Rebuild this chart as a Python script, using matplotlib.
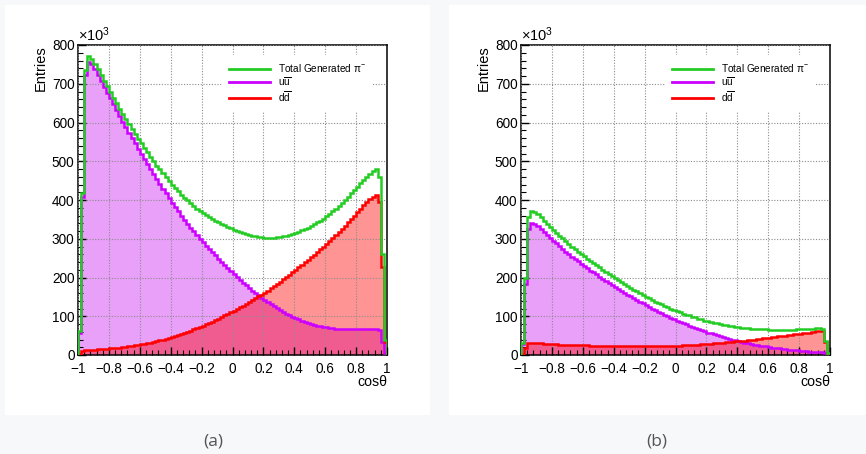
import numpy as np
import matplotlib
matplotlib.use("Agg")
import matplotlib.pyplot as plt
from matplotlib.patches import Rectangle
from matplotlib.lines import Line2D
from matplotlib.ticker import MultipleLocator, FixedLocator, FixedFormatter

plt.rcParams['font.family'] = ['Liberation Sans', 'DejaVu Sans']
plt.rcParams['mathtext.fontset'] = 'custom'
plt.rcParams['mathtext.rm'] = 'Liberation Sans'
plt.rcParams['mathtext.it'] = 'Liberation Sans:italic'

# ---------------- data (entries in units of 10^3), 100 bins on [-1, 1] ----------------
bin_lo, bin_hi, n_bins = -1.0, 1.0, 100

uu_a = [58, 408, 722, 757, 750, 737, 722, 707, 692, 677,
        662, 647, 632, 617, 602, 588, 574, 560, 546, 532,
        518, 505, 492, 479, 466, 453, 441, 429, 417, 405,
        393, 382, 371, 360, 349, 339, 329, 319, 309, 300,
        291, 282, 273, 265, 257, 249, 241, 233, 225, 217,
        209, 201, 194, 187, 180, 173, 166, 160, 154, 148,
        142, 136, 131, 126, 121, 116, 111, 107, 103, 99,
        95, 92, 89, 86, 83, 80, 78, 76, 74, 72,
        71, 70, 69, 68, 67, 67, 66, 66, 66, 66,
        66, 66, 66, 66, 66, 66, 66, 64, 34, 5]
dd_a = [3, 10, 13, 14, 14, 14, 15, 15, 16, 16,
        17, 17, 18, 19, 20, 21, 22, 23, 25, 26,
        28, 29, 31, 32, 34, 36, 38, 40, 42, 44,
        46, 49, 51, 54, 57, 60, 63, 66, 69, 72,
        76, 79, 83, 86, 90, 94, 98, 102, 106, 110,
        114, 118, 123, 127, 132, 136, 141, 146, 151, 156,
        161, 166, 172, 177, 183, 189, 195, 201, 207, 214,
        220, 226, 233, 239, 246, 253, 259, 266, 273, 280,
        287, 295, 302, 310, 318, 326, 334, 343, 351, 360,
        368, 377, 386, 394, 402, 409, 413, 396, 226, 34]
tot_a = [61, 418, 735, 771, 764, 751, 737, 722, 708, 693,
         679, 664, 650, 636, 622, 609, 596, 583, 571, 558,
         546, 534, 523, 511, 500, 489, 479, 469, 459, 449,
         439, 431, 422, 414, 406, 399, 392, 385, 378, 372,
         367, 361, 356, 351, 347, 343, 339, 335, 331, 327,
         323, 319, 317, 314, 312, 309, 307, 306, 305, 304,
         303, 302, 303, 303, 304, 305, 306, 308, 310, 313,
         315, 318, 322, 325, 329, 333, 337, 342, 347, 352,
         358, 365, 371, 378, 385, 393, 400, 409, 417, 426,
         434, 443, 452, 460, 468, 475, 479, 460, 260, 39]

uu_b = [28, 183, 326, 340, 339, 333, 326, 318, 310, 302,
        295, 288, 281, 274, 267, 260, 254, 248, 242, 236,
        230, 224, 218, 213, 208, 202, 197, 191, 186, 181,
        176, 171, 166, 161, 156, 151, 146, 142, 137, 133,
        128, 124, 120, 116, 112, 108, 104, 100, 96, 93,
        89, 86, 82, 79, 76, 73, 70, 67, 64, 61,
        58, 56, 53, 51, 48, 46, 44, 42, 40, 38,
        36, 34, 32, 31, 29, 27, 26, 24, 23, 22,
        20, 19, 18, 17, 16, 15, 14, 13, 12, 12,
        11, 10, 10, 9, 9, 8, 8, 7, 4, 1]
dd_b = [2, 17, 30, 31, 31, 30, 30, 29, 29, 28,
        28, 28, 27, 27, 27, 26, 26, 26, 25, 25,
        25, 25, 24, 24, 24, 24, 23, 23, 23, 23,
        23, 22, 22, 22, 22, 22, 22, 22, 22, 22,
        22, 22, 22, 22, 22, 23, 23, 23, 23, 24,
        24, 24, 25, 25, 26, 26, 27, 27, 28, 28,
        29, 29, 30, 31, 31, 32, 33, 33, 34, 35,
        36, 36, 37, 38, 39, 40, 41, 42, 43, 44,
        45, 46, 47, 48, 49, 50, 51, 52, 53, 54,
        55, 56, 57, 58, 59, 61, 62, 61, 33, 3]
tot_b = [30, 200, 356, 371, 370, 363, 356, 347, 339, 330,
         323, 316, 308, 301, 294, 286, 280, 274, 267, 261,
         255, 249, 242, 237, 232, 226, 220, 214, 209, 204,
         199, 193, 188, 183, 178, 173, 168, 164, 159, 155,
         150, 146, 142, 138, 134, 131, 127, 123, 119, 117,
         113, 110, 107, 104, 102, 99, 97, 94, 92, 89,
         87, 85, 83, 82, 79, 78, 77, 75, 74, 73,
         72, 70, 69, 69, 68, 67, 67, 66, 66, 66,
         65, 65, 65, 65, 65, 65, 65, 65, 65, 66,
         66, 66, 67, 67, 68, 69, 70, 68, 37, 4]

x_ticks = [-1, -0.8, -0.6, -0.4, -0.2, 0, 0.2, 0.4, 0.6, 0.8, 1]
x_ticklabels = ['\u22121', '\u22120.8', '\u22120.6', '\u22120.4', '\u22120.2', '0',
                '0.2', '0.4', '0.6', '0.8', '1']
y_ticks = [0, 100, 200, 300, 400, 500, 600, 700, 800]
y_ticklabels = [str(v) for v in y_ticks]
legend_labels = ['Total Generated \u03c0$^{-}$', 'u$\\overline{\\mathrm{u}}$', 'd$\\overline{\\mathrm{d}}$']
panel_labels = ['(a)', '(b)']

# ---------------- style ----------------
W, H = 866, 454
BG = '#f7f8fa'
GREEN = '#22cc22'
MAG = '#cc00ff'
MAG_FILL = '#e8a0f8'
RED = '#ff0000'
RED_FILL = (1.0, 0.0, 0.0, 0.42)

fig = plt.figure(figsize=(W / 100, H / 100), dpi=100, facecolor=BG)

panels = [
    dict(uu=uu_a, dd=dd_a, tot=tot_a, white=(5, 5, 430, 415), ax=(78, 45, 387, 355), lab=(213, 441)),
    dict(uu=uu_b, dd=dd_b, tot=tot_b, white=(449, 5, 866, 415), ax=(521, 45, 830, 355), lab=(657, 441)),
]

edges = np.linspace(bin_lo, bin_hi, n_bins + 1)

for p, plabel in zip(panels, panel_labels):
    x0, y0, x1, y1 = p['white']
    fig.patches.append(Rectangle((x0 / W, 1 - y1 / H), (x1 - x0) / W, (y1 - y0) / H,
                                 transform=fig.transFigure, facecolor='white',
                                 edgecolor='none', zorder=-5))
    l, t, r, b = p['ax']
    aw, ah = (r - l), (b - t)
    ax = fig.add_axes([l / W, 1 - b / H, aw / W, ah / H])
    ax.set_facecolor('white')

    ax.stairs(p['uu'], edges, fill=True, color=MAG_FILL, linewidth=0, zorder=1)
    ax.stairs(p['dd'], edges, fill=True, color=RED_FILL, linewidth=0, zorder=1.2)
    ax.stairs(p['uu'], edges, color=MAG, linewidth=1.8, zorder=3)
    ax.stairs(p['dd'], edges, color=RED, linewidth=1.8, zorder=3.1)
    ax.stairs(p['tot'], edges, color=GREEN, linewidth=1.8, zorder=3.2)

    ax.set_xlim(bin_lo, bin_hi)
    ax.set_ylim(0, 800)

    ax.xaxis.set_major_locator(FixedLocator(x_ticks))
    ax.xaxis.set_major_formatter(FixedFormatter(x_ticklabels))
    ax.xaxis.set_minor_locator(MultipleLocator(0.04))
    ax.yaxis.set_major_locator(FixedLocator(y_ticks))
    ax.yaxis.set_major_formatter(FixedFormatter(y_ticklabels))
    ax.yaxis.set_minor_locator(MultipleLocator(20))

    ax.tick_params(which='both', direction='in', top=False, right=False,
                   colors='black', labelsize=9.8)
    ax.tick_params(which='major', length=6, width=1)
    ax.tick_params(which='minor', length=3.5, width=0.8)
    ax.tick_params(axis='x', pad=5)
    ax.tick_params(axis='y', pad=2.5)

    for s in ax.spines.values():
        s.set_linewidth(1.1)
        s.set_color('black')

    ax.set_axisbelow(False)
    ax.grid(True, which='major', color='#8c8c8c', linestyle=(0, (1, 1.5)), linewidth=0.8)

    ax.text(0.0, 1.004, '\u00d710$^{3}$', transform=ax.transAxes, ha='left', va='bottom',
            fontsize=10.5)
    ax.text(-37 / aw, 1.0, 'Entries', transform=ax.transAxes, rotation=90,
            ha='center', va='top', fontsize=10.5)
    ax.text(1.0, -20 / ah, 'cos\u03b8', transform=ax.transAxes,
            ha='right', va='top', fontsize=10.2)

    handles = [Line2D([], [], color=GREEN, lw=2), Line2D([], [], color=MAG, lw=2),
               Line2D([], [], color=RED, lw=2)]
    leg = ax.legend(handles, legend_labels, loc='upper left',
                    bbox_to_anchor=(144 / aw, 1 - 10 / ah),
                    fontsize=7.2, frameon=True, facecolor='white', edgecolor='none',
                    framealpha=1, fancybox=False, handlelength=4.1, handletextpad=0.8,
                    labelspacing=0.1, borderpad=0.7, borderaxespad=0)
    leg.set_zorder(5)

    fig.text(p['lab'][0] / W, 1 - p['lab'][1] / H, plabel, ha='center', va='center',
             fontsize=12.5, color='#555555', family=['Open Sans', 'DejaVu Sans'])

fig.savefig('out.png', dpi=100, facecolor=BG)
